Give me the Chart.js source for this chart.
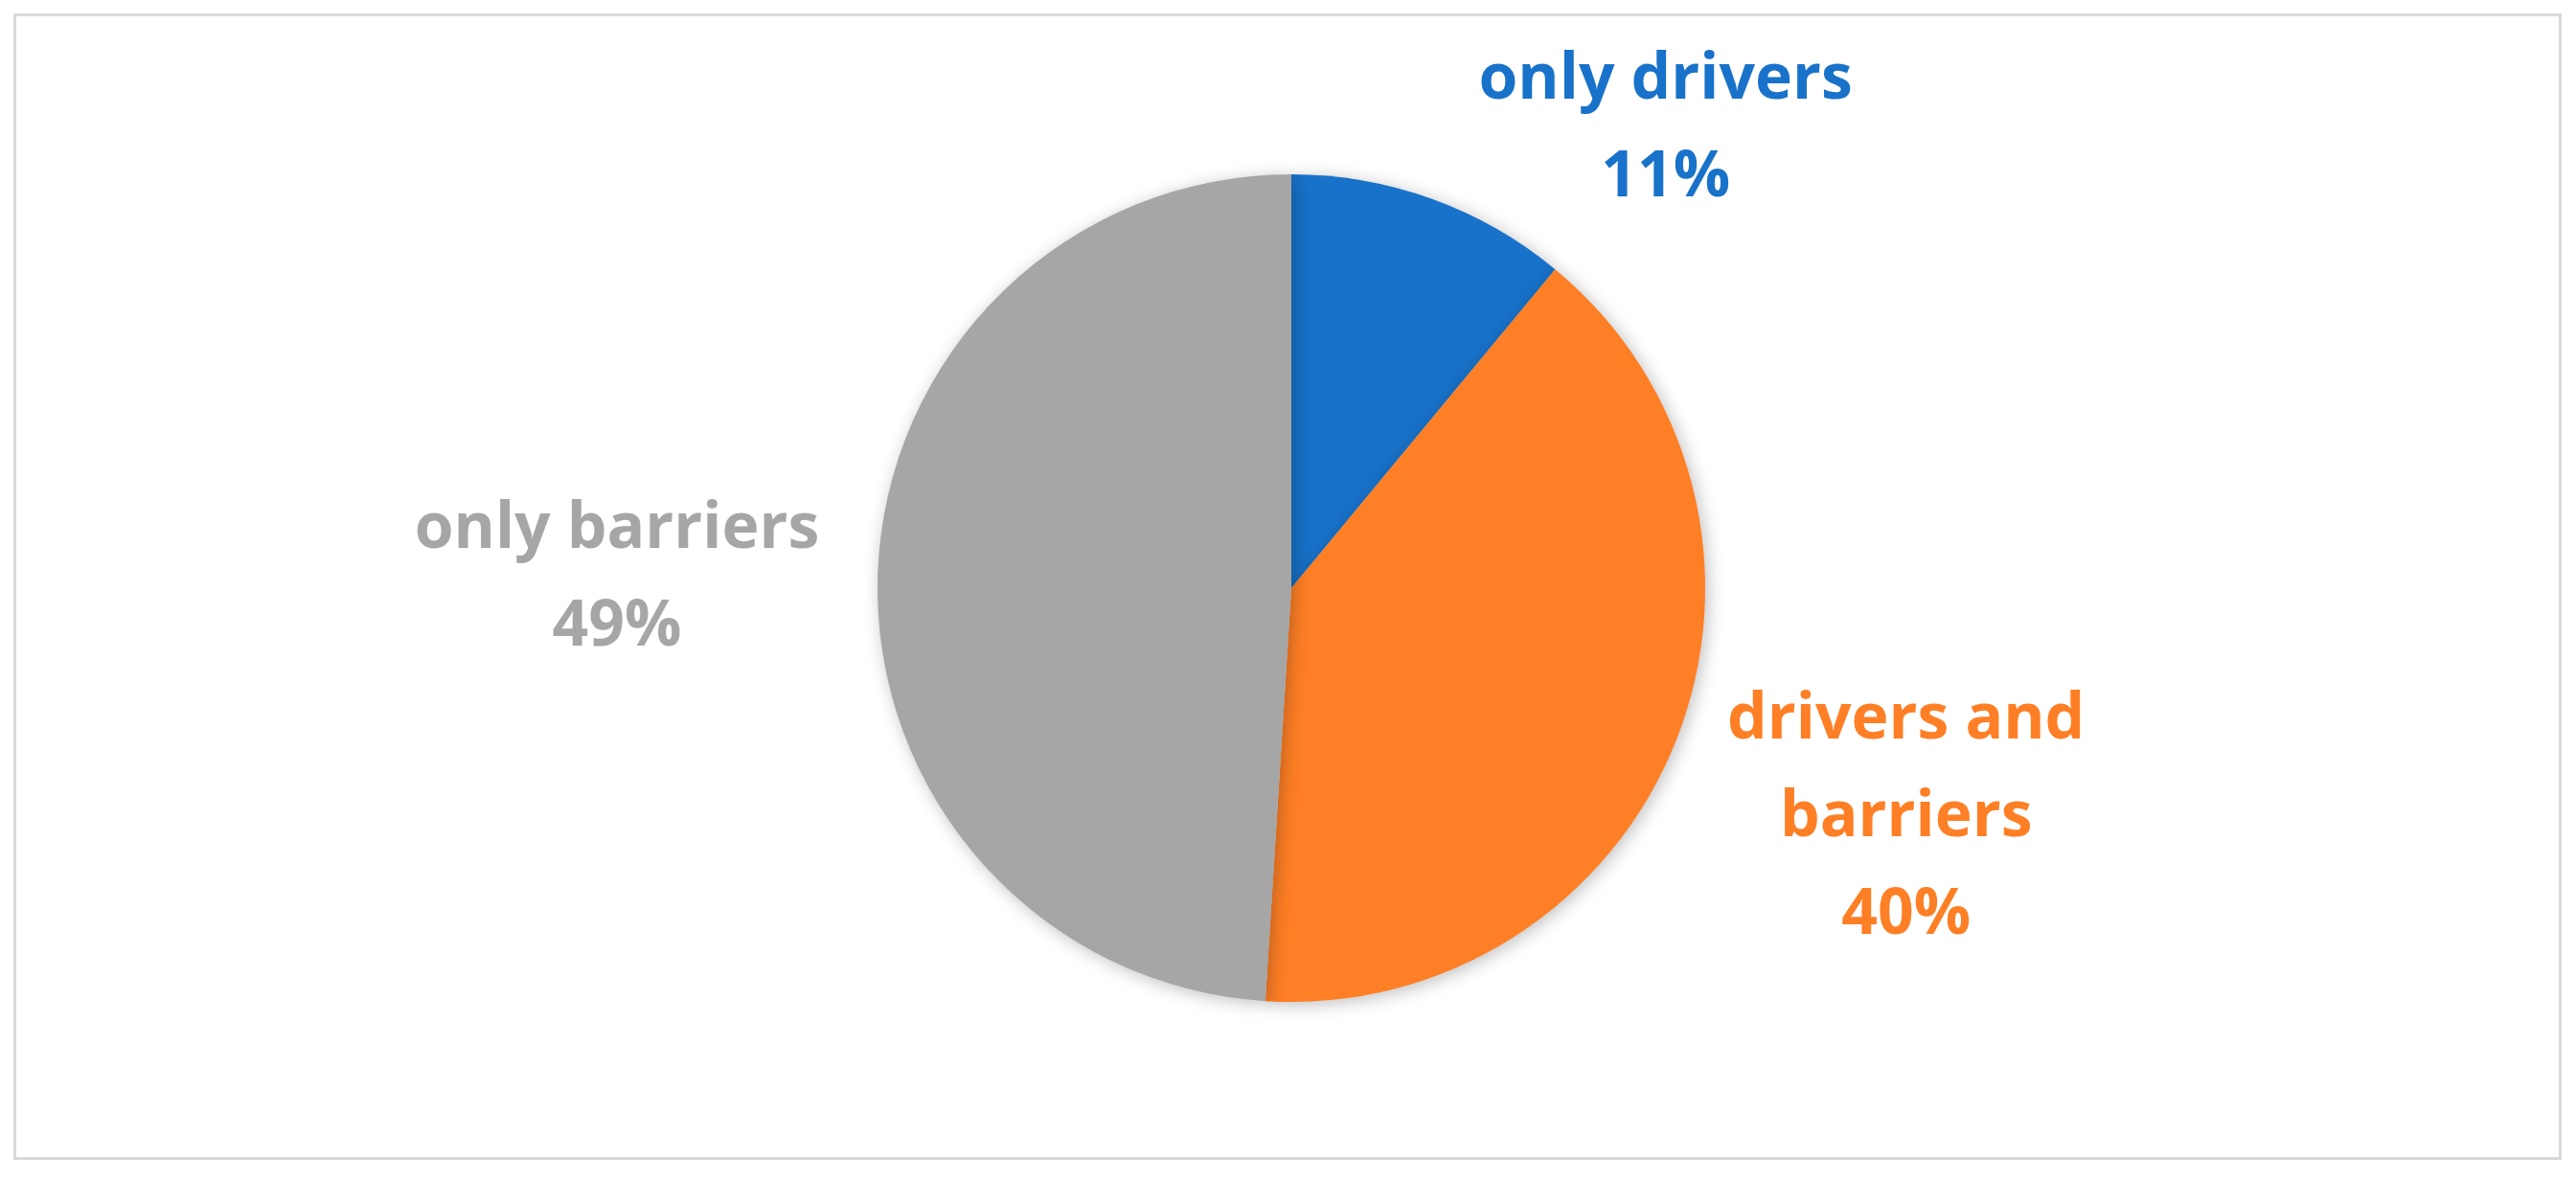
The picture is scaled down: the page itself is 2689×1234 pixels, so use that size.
<!DOCTYPE html>
<html>
<head>
<meta charset="utf-8">
<script src="https://cdn.jsdelivr.net/npm/chart.js@4"></script>
<style>
  html, body { margin: 0; padding: 0; background: #fff; }
  #frame { position: absolute; left: 14px; top: 14px; width: 2654px; height: 1191px; border: 3px solid #d9d9d9; }
  #pie { position: absolute; left: 0; top: 0; }
</style>
</head>
<body>
<div id="frame"></div>
<canvas id="pie" width="2689" height="1234"></canvas>
<script>
const categories = ['only drivers', 'drivers and barriers', 'only barriers'];
const values = [11, 40, 49];
const colors = ['#1872c9', '#fe7f25', '#a6a6a6'];
// label text lines for each slice
const labelLines = [['only drivers'], ['drivers and', 'barriers'], ['only barriers']];

// where each label sits relative to its slice: angle offset (rad) and distance factor
const labelPlacement = [
    { angle: 0.339, dist: 1.43 },
    { angle: -0.019, dist: 1.586 },
    { angle: -0.017, dist: 1.63 }
];

const pieLabels = {
    id: 'pieLabels',
    afterDatasetsDraw(chart) {
        const ctx = chart.ctx;
        const meta = chart.getDatasetMeta(0);
        ctx.save();
        ctx.font = 'bold 66px "Open Sans"';
        ctx.textAlign = 'center';
        ctx.textBaseline = 'middle';
        meta.data.forEach((arc, i) => {
            const mid = (arc.startAngle + arc.endAngle) / 2 + labelPlacement[i].angle;
            const r = arc.outerRadius * labelPlacement[i].dist;
            const x = arc.x + Math.cos(mid) * r;
            const y = arc.y + Math.sin(mid) * r;
            const lines = labelLines[i].concat([values[i] + '%']);
            const lh = 102;
            const y0 = y - (lines.length - 1) * lh / 2;
            ctx.fillStyle = colors[i];
            lines.forEach((t, k) => ctx.fillText(t, x, y0 + k * lh));
        });
        ctx.restore();
    }
};

const pieShadow = {
    id: 'pieShadow',
    beforeDatasetsDraw(chart) {
        chart.ctx.save();
        chart.ctx.shadowColor = 'rgba(0,0,0,0.25)';
        chart.ctx.shadowBlur = 18;
        chart.ctx.shadowOffsetX = 3;
        chart.ctx.shadowOffsetY = 3;
    },
    afterDatasetsDraw(chart) {
        chart.ctx.restore();
    }
};

new Chart(document.getElementById('pie'), {
    type: 'pie',
    data: {
        labels: categories,
        datasets: [{
            data: values,
            backgroundColor: colors,
            borderWidth: 0
        }]
    },
    options: {
        responsive: false,
        animation: false,
        layout: { padding: { top: 182, bottom: 188, left: 916, right: 909 } },
        plugins: {
            legend: { display: false },
            tooltip: { enabled: false }
        }
    },
    plugins: [pieShadow, pieLabels]
});
</script>
</body>
</html>
